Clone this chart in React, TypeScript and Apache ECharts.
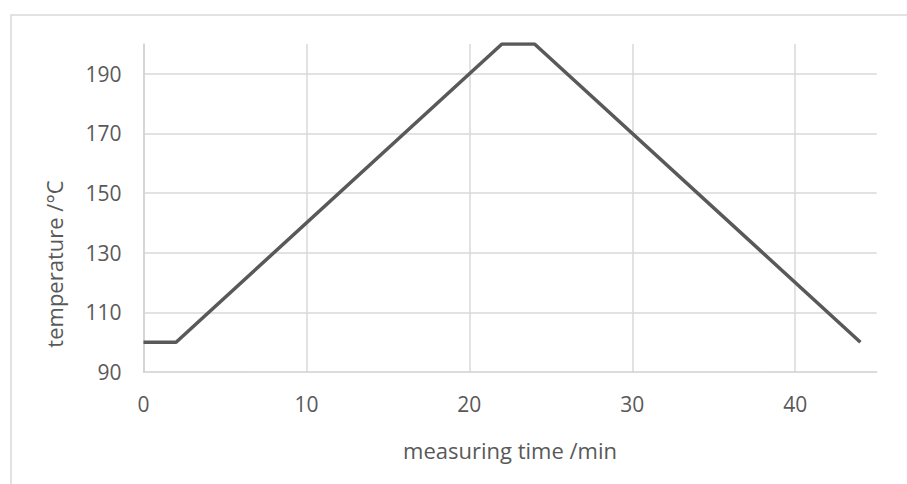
import React, { useEffect, useRef } from "react";
import * as echarts from "echarts";

const timeValues = [0, 2, 22, 24, 44];
const tempValues = [100, 100, 200, 200, 100];
const xTitle = "measuring time /min";
const yTitle = "temperature /°C";

const FONT = "'Open Sans', 'Liberation Sans', sans-serif";
const TEXT = "#595959";
const GRID = "#d9d9d9";

export default function App() {
  const ref = useRef<HTMLDivElement>(null);
  useEffect(() => {
    if (!ref.current) return;
    const chart = echarts.init(ref.current, undefined, { renderer: "svg" });
    chart.setOption({
      animation: false,
      backgroundColor: "#ffffff",
      textStyle: { fontFamily: FONT },
      grid: { left: 143.5, top: 44, right: 30.3, bottom: 112 },
      xAxis: {
        type: "value",
        min: 0,
        max: 45,
        interval: 10,
        axisLine: { show: true, lineStyle: { color: "#d0d0d0", width: 1.5 } },
        axisTick: { show: false },
        axisLabel: {
          color: TEXT,
          fontSize: 21,
          fontFamily: FONT,
          margin: 21,
          showMaxLabel: false,
        },
        splitLine: { show: true, showMaxLine: false, lineStyle: { color: GRID, width: 1.5 } },
      },
      yAxis: {
        type: "value",
        min: 90,
        max: 200,
        interval: 20,
        axisLine: { show: true, lineStyle: { color: "#d0d0d0", width: 1.5 } },
        axisTick: { show: false },
        axisLabel: {
          color: TEXT,
          fontSize: 21,
          fontFamily: FONT,
          margin: 22,
          showMaxLabel: false,
        },
        splitLine: { show: true, showMaxLine: false, showMinLine: false, lineStyle: { color: GRID, width: 1.5 } },
      },
      series: [
        {
          type: "line",
          data: timeValues.map((t, i) => [t, tempValues[i]]),
          showSymbol: false,
          symbol: "none",
          lineStyle: { color: "#595959", width: 3.5 },
          itemStyle: { color: "#595959" },
        },
      ],
      graphic: [
        {
          type: "rect",
          shape: { x: 11, y: 15, width: 1000, height: 1000 },
          style: { fill: "none", stroke: GRID, lineWidth: 1.5 },
          silent: true,
        },
        {
          type: "text",
          x: 510,
          y: 450,
          style: {
            text: xTitle,
            fill: TEXT,
            font: `22px ${FONT}`,
            align: "center",
            verticalAlign: "middle",
          },
        },
        {
          type: "text",
          x: 54,
          y: 264,
          rotation: Math.PI / 2,
          style: {
            text: yTitle,
            fill: TEXT,
            font: `22px ${FONT}`,
            align: "center",
            verticalAlign: "middle",
          },
        },
      ],
    });
    return () => chart.dispose();
  }, []);
  return (
    <div
      ref={ref}
      style={{ position: "fixed", left: 0, top: 0, width: 907, height: 484 }}
    />
  );
}
